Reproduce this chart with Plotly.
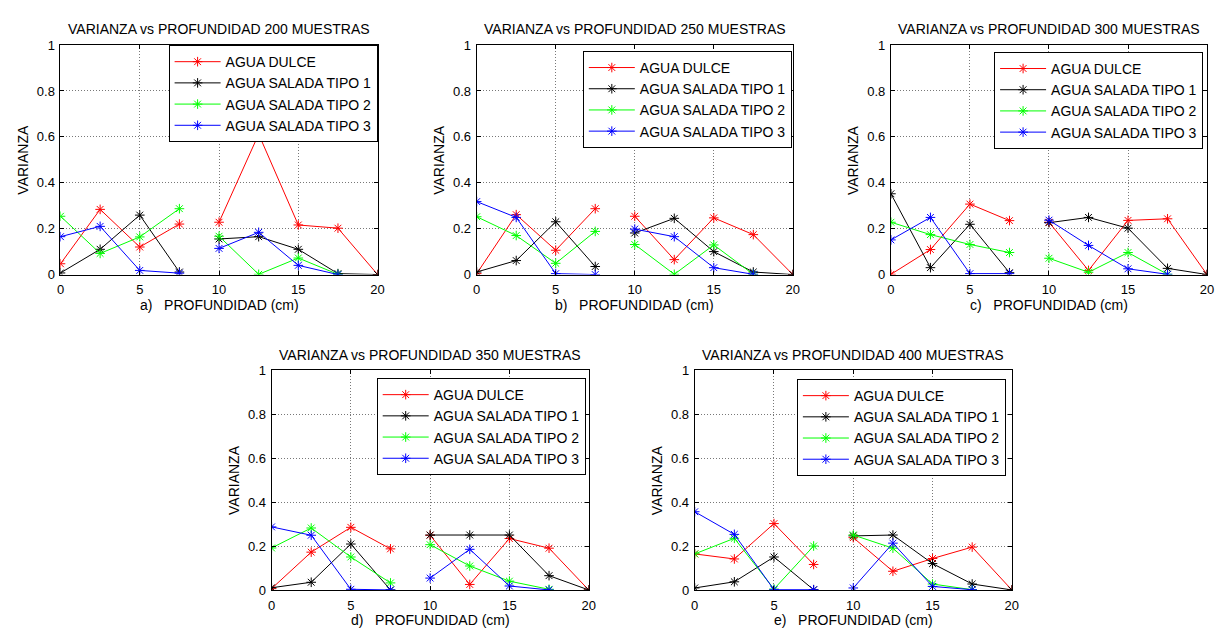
import plotly.graph_objects as go

# ---------------- DATA ----------------
DEPTH = [0, 2.5, 5, 7.5, 10, 12.5, 15, 17.5, 20]
SERIES_NAMES = ["AGUA DULCE", "AGUA SALADA TIPO 1", "AGUA SALADA TIPO 2", "AGUA SALADA TIPO 3"]
SAMPLES = [200, 250, 300, 350, 400]
PANEL_LETTERS = ["a)", "b)", "c)", "d)", "e)"]

# 200 muestras
m200_dulce = [0.047, 0.284, 0.120, 0.220, 0.228, 0.612, 0.216, 0.202, 0.0]
m200_tipo1 = [0.007, 0.110, 0.259, 0.011, 0.155, 0.165, 0.110, 0.004, 0.0]
m200_tipo2 = [0.254, 0.092, 0.164, 0.287, 0.167, 0.001, 0.072, 0.001, None]
m200_tipo3 = [0.165, 0.210, 0.018, 0.006, 0.114, 0.184, 0.040, 0.000, None]

# 250 muestras
m250_dulce = [0.004, 0.261, 0.106, 0.287, 0.254, 0.065, 0.247, 0.174, 0.0]
m250_tipo1 = [0.011, 0.061, 0.230, 0.035, 0.181, 0.245, 0.100, 0.011, 0.0]
m250_tipo2 = [0.252, 0.170, 0.049, 0.188, 0.131, 0.001, 0.129, 0.001, None]
m250_tipo3 = [0.318, 0.249, 0.004, 0.000, 0.198, 0.165, 0.030, 0.001, None]

# 300 muestras
m300_dulce = [0.001, 0.109, 0.307, 0.235, 0.228, 0.018, 0.236, 0.243, 0.0]
m300_tipo1 = [0.352, 0.030, 0.219, 0.008, 0.226, 0.249, 0.202, 0.027, 0.0]
m300_tipo2 = [0.228, 0.174, 0.131, 0.096, 0.071, 0.010, 0.096, 0.001, None]
m300_tipo3 = [0.151, 0.249, 0.004, 0.004, 0.237, 0.127, 0.025, 0.001, None]

# 350 muestras
m350_dulce = [0.006, 0.172, 0.285, 0.187, 0.249, 0.025, 0.234, 0.190, 0.0]
m350_tipo1 = [0.010, 0.035, 0.209, 0.000, 0.250, 0.250, 0.250, 0.065, 0.0]
m350_tipo2 = [0.191, 0.282, 0.150, 0.032, 0.206, 0.109, 0.040, 0.003, None]
m350_tipo3 = [0.287, 0.249, 0.003, 0.000, 0.054, 0.185, 0.018, 0.000, None]

# 400 muestras
m400_dulce = [0.164, 0.141, 0.302, 0.116, 0.238, 0.085, 0.143, 0.195, 0.0]
m400_tipo1 = [0.009, 0.037, 0.150, 0.001, 0.246, 0.250, 0.120, 0.027, 0.0]
m400_tipo2 = [0.164, 0.235, 0.004, 0.200, 0.250, 0.190, 0.027, 0.001, None]
m400_tipo3 = [0.356, 0.253, 0.001, 0.001, 0.009, 0.213, 0.016, 0.001, None]

PANELS = [
    [m200_dulce, m200_tipo1, m200_tipo2, m200_tipo3],
    [m250_dulce, m250_tipo1, m250_tipo2, m250_tipo3],
    [m300_dulce, m300_tipo1, m300_tipo2, m300_tipo3],
    [m350_dulce, m350_tipo1, m350_tipo2, m350_tipo3],
    [m400_dulce, m400_tipo1, m400_tipo2, m400_tipo3],
]

X_TICKS = [0, 5, 10, 15, 20]
Y_TICKS = [0, 0.2, 0.4, 0.6, 0.8, 1]
Y_TICKTEXT = ["0", "0.2", "0.4", "0.6", "0.8", "1"]

# ---------------- STYLE / LAYOUT ----------------
COLORS = ["#ff0000", "#000000", "#00ff00", "#0000ff"]
W, H = 1219, 637
FONT = "Liberation Sans, Arial, sans-serif"

# pixel boxes: (left, right, top, bottom, legend_right, legend_top)
BOXES = [
    (57, 377, 39, 274, 377, 39),
    (477, 796, 39, 274, 795, 45),
    (895, 1214, 39, 274, 1210, 46),
    (270, 590, 372, 597, 587, 380),
    (697, 1017, 372, 597, 1011, 381),
]

GAP_AFTER = 4  # break the line between 7.5 and 10 cm


def px(x):
    return x / W


def py(y):
    return 1 - y / H


fig = go.Figure()
annotations = []
layout = dict(
    autosize=True,
    margin=dict(l=0, r=0, t=0, b=0),
    paper_bgcolor="white", plot_bgcolor="white",
    font=dict(family=FONT, size=13, color="black"),
)

for p, (series_set, box) in enumerate(zip(PANELS, BOXES)):
    left, right, top, bottom, lg_r, lg_t = box
    k = p + 1
    xa = "x" if k == 1 else f"x{k}"
    ya = "y" if k == 1 else f"y{k}"
    lg = "legend" if k == 1 else f"legend{k}"
    for s, (name, vals) in enumerate(zip(SERIES_NAMES, series_set)):
        xs = DEPTH[:GAP_AFTER] + [None] + DEPTH[GAP_AFTER:]
        ys = vals[:GAP_AFTER] + [None] + vals[GAP_AFTER:]
        fig.add_trace(go.Scatter(
            x=xs, y=ys, name=name, mode="lines+markers",
            xaxis=xa, yaxis=ya, legend=lg,
            line=dict(color=COLORS[s], width=1),
            marker=dict(symbol="asterisk-open", size=8, color=COLORS[s],
                        line=dict(color=COLORS[s], width=1)),
            connectgaps=False,
        ))
    axis_common = dict(
        showline=True, linecolor="black", linewidth=1, mirror="ticks",
        ticks="inside", ticklen=4, tickcolor="black", tickwidth=1,
        showgrid=True, gridcolor="rgb(120,120,120)", griddash="1px,2px", gridwidth=1,
        zeroline=False, tickfont=dict(family=FONT, size=13, color="black"),
    )
    layout["xaxis" if k == 1 else f"xaxis{k}"] = dict(
        axis_common, domain=[px(left), px(right)], range=[0, 20],
        tickvals=X_TICKS, anchor=ya, ticklabelstandoff=3,
    )
    layout["yaxis" if k == 1 else f"yaxis{k}"] = dict(
        axis_common, domain=[py(bottom), py(top)], range=[0, 1],
        tickvals=Y_TICKS, ticktext=Y_TICKTEXT, anchor=xa, ticklabelstandoff=2,
    )
    layout[lg] = dict(
        x=px(lg_r), y=py(lg_t), xanchor="right", yanchor="top",
        bgcolor="white", bordercolor="black", borderwidth=1,
        font=dict(family=FONT, size=14, color="black"),
        itemwidth=46, tracegroupgap=0,
    )
    cx = (left + right) / 2
    annotations.append(dict(
        text=f"VARIANZA vs PROFUNDIDAD {SAMPLES[p]} MUESTRAS",
        x=px(cx), y=py(top - 16), xref="paper", yref="paper",
        xanchor="center", yanchor="middle", showarrow=False,
        font=dict(family=FONT, size=14, color="black"),
    ))
    annotations.append(dict(
        text=f"{PANEL_LETTERS[p]}   PROFUNDIDAD (cm)",
        x=px(cx), y=py(bottom + 31), xref="paper", yref="paper",
        xanchor="center", yanchor="middle", showarrow=False,
        font=dict(family=FONT, size=14, color="black"),
    ))
    annotations.append(dict(
        text="VARIANZA", textangle=-90,
        x=px(left - 38), y=py((top + bottom) / 2), xref="paper", yref="paper",
        xanchor="center", yanchor="middle", showarrow=False,
        font=dict(family=FONT, size=14, color="black"),
    ))

layout["annotations"] = annotations
fig.update_layout(**layout)
fig.write_html(
    "out.html",
    default_width="100vw",
    default_height="100vh",
    config={"responsive": True, "displayModeBar": False},
    post_script=(
        "document.documentElement.style.margin='0';"
        "document.body.style.margin='0';"
        "document.body.style.overflow='hidden';"
        "document.documentElement.style.overflow='hidden';"
        "Plotly.Plots.resize(document.getElementById('{plot_id}'));"
    ),
)
